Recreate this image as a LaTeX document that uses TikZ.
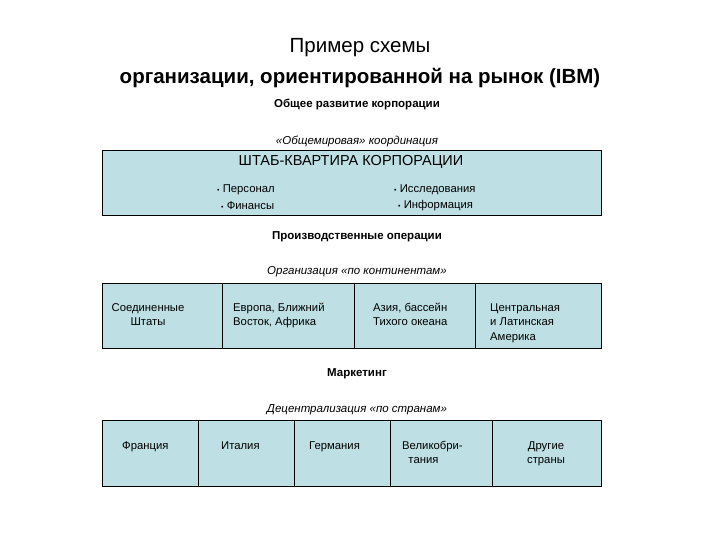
\documentclass[tikz,border=0pt]{standalone}
\usepackage{fontspec}
\setmainfont{Liberation Sans}
\definecolor{boxblue}{RGB}{190,224,228}
\begin{document}
\begin{tikzpicture}[x=1pt,y=-1pt,
  box/.style={draw=black,line width=0.8pt,fill=boxblue},
  cell/.style={align=left,font=\fontsize{11.3}{14.5}\selectfont,anchor=north west,inner sep=0pt},
  lab/.style={font=\fontsize{11.3}{13}\selectfont,inner sep=0pt},
  blab/.style={font=\bfseries\fontsize{11.5}{13}\selectfont,inner sep=0pt},
  ilab/.style={font=\itshape\fontsize{11.5}{13}\selectfont,inner sep=0pt}]
\useasboundingbox (0,0) rectangle (720,540);
\node[font=\fontsize{20.5}{24}\selectfont,inner sep=0pt] (t1) at (360,48) {Пример схемы};
\node[font=\bfseries\fontsize{20.5}{24}\selectfont,inner sep=0pt] (t2) at (360,78) {организации, ориентированной на рынок (IBM)};
\node[blab] (l1) at (357,104) {Общее развитие корпорации};
\node[ilab] (l2) at (357,141) {«Общемировая» координация};
\draw[box] (102,150) rectangle (601,215);
\node[font=\fontsize{14.5}{16}\selectfont,inner sep=0pt] (hq) at (351,162) {ШТАБ-КВАРТИРА КОРПОРАЦИИ};
\node[lab,anchor=west] (b1) at (217,190) {{\scriptsize •} Персонал};
\node[lab,anchor=west] (b2) at (221,206) {{\scriptsize •} Финансы};
\node[lab,anchor=west] (b3) at (394,190) {{\scriptsize •} Исследования};
\node[lab,anchor=west] (b4) at (398,206) {{\scriptsize •} Информация};
\node[blab] (l3) at (357,237) {Производственные операции};
\node[ilab] (l4) at (357,272) {Организация «по континентам»};
\draw[box] (102,283) rectangle (601,348);
\draw (222,283) -- (222,348) (354,283) -- (354,348) (475,283) -- (475,348);
\node[cell,align=center,anchor=north] (c1) at (148,301) {\strut Соединенные\\Штаты};
\node[cell] (c2) at (233,301) {\strut Европа, Ближний\\Восток, Африка};
\node[cell] (c3) at (373,301) {\strut Азия, бассейн\\Тихого океана};
\node[cell] (c4) at (490,301) {\strut Центральная\\ и Латинская\\Америка};
\node[blab] (l5) at (357,374) {Маркетинг};
\node[ilab] (l6) at (357,410) {Децентрализация «по странам»};
\draw[box] (102,420) rectangle (601,486);
\draw (198,420) -- (198,486) (294,420) -- (294,486) (390,420) -- (390,486) (492,420) -- (492,486);
\node[cell] (d1) at (122,439) {\strut Франция};
\node[cell] (d2) at (221,439) {\strut Италия};
\node[cell] (d3) at (309,439) {\strut Германия};
\node[cell] (d4) at (402,439) {\strut Великобри-\\\ \ тания};
\node[cell,align=center,anchor=north] (d5) at (546,439) {\strut Другие\\страны};
\end{tikzpicture}
\end{document}
